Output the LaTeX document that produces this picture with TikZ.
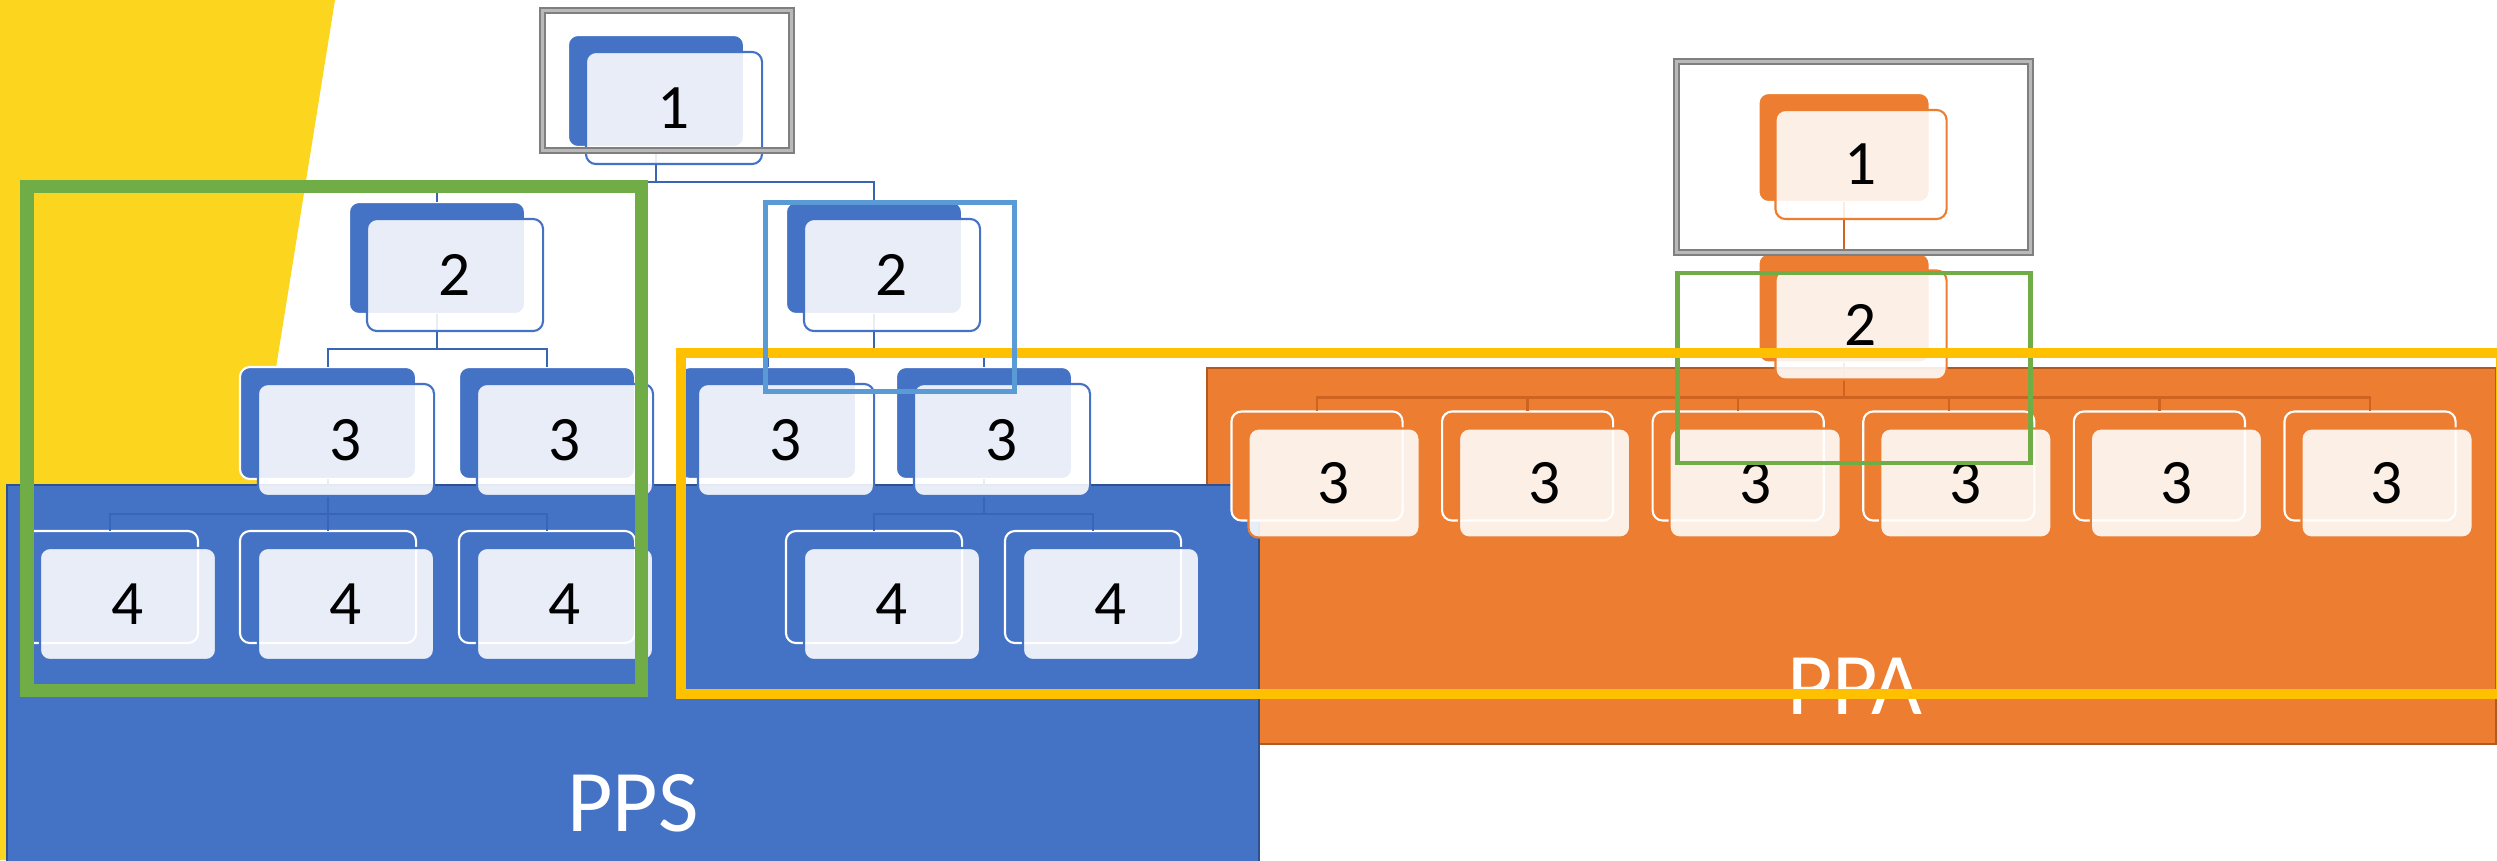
\documentclass[tikz,border=0pt]{standalone}
\usepackage{fontspec}
\setmainfont{Carlito}
\usepackage{tikz}

\definecolor{ppsblue}{HTML}{4472C4}
\definecolor{ppsedge}{HTML}{2F528F}
\definecolor{ppaorange}{HTML}{ED7D31}
\definecolor{ppaedge}{HTML}{AE5A21}
\definecolor{linkblue}{HTML}{3A64B4}
\definecolor{linkorange}{HTML}{CF6320}
\definecolor{sunyellow}{HTML}{FCD51E}
\definecolor{frameyellow}{HTML}{FFC000}
\definecolor{framegreen}{HTML}{70AD47}
\definecolor{framesky}{HTML}{5B9BD5}
\definecolor{framegray}{HTML}{7F7F7F}

\tikzset{
  cardbase/.style={rectangle, rounded corners=0.1cm, inner sep=0pt, outer sep=0pt, line width=0.6pt},
  ppsback/.style={cardbase, minimum width=1.76cm, minimum height=1.12cm, fill=ppsblue, draw=white},
  ppsfront/.style={cardbase, minimum width=1.76cm, minimum height=1.12cm, fill=white, fill opacity=0.88, text opacity=1, draw=ppsblue, font=\fontsize{18}{18}\selectfont},
  ppaback/.style={cardbase, minimum width=1.71cm, minimum height=1.09cm, fill=ppaorange, draw=white},
  ppafront/.style={cardbase, minimum width=1.71cm, minimum height=1.09cm, fill=white, fill opacity=0.88, text opacity=1, draw=ppaorange, font=\fontsize{18}{18}\selectfont},
  ppslink/.style={draw=linkblue, line width=0.6pt},
  ppalink/.style={draw=linkorange, line width=0.7pt},
  areatext/.style={inner sep=0pt, text=white, font=\fontsize{25}{25}\selectfont},
  grayframe/.style={draw=framegray, line width=0.6pt, double=framegray!55, double distance=0.7pt}
}

\begin{document}
\begin{tikzpicture}[x=0.01cm, y=-0.01cm]
\clip (0,0) rectangle (2497,860);

% areas
\fill[sunyellow] (0,0) -- (335,0) -- (197,860) -- (0,860) -- cycle;
\draw[ppaedge, fill=ppaorange, line width=0.5pt] (1207,368) rectangle (2496,744);
\draw[ppsedge, fill=ppsblue, line width=0.5pt] (7,485) rectangle (1259,880);
\node[areatext] (ppa) at (1855,686) {PPA};
\node[areatext] (pps) at (633,803) {PPS};

% PPS tree
\foreach \nd/\x/\y in {s1/656/91, s2a/437/258, s2b/874/258,
    s3a/328/423, s3b/547/423, s3c/768/423, s3d/984/423,
    s4a/110/587, s4b/328/587, s4c/547/587, s4d/874/587, s4e/1093/587}
  \node[ppsback] (\nd) at (\x,\y) {};

\foreach \p/\c in {s1/s2a, s1/s2b, s2a/s3a, s2a/s3b, s2b/s3c, s2b/s3d,
    s3a/s4a, s3a/s4b, s3a/s4c, s3d/s4d, s3d/s4e}
  \draw[ppslink] (\p.south) -- ++(0,35) -| (\c.north);

\foreach \nd/\t in {s1/1, s2a/2, s2b/2, s3a/3, s3b/3, s3c/3, s3d/3,
    s4a/4, s4b/4, s4c/4, s4d/4, s4e/4}
  \node[ppsfront] (f\nd) at ([shift={(18,17)}]\nd.center) {\t};

% PPA tree
\node[ppaback] (a1) at (1844,147.5) {};
\node[ppaback] (a2) at (1844,308) {};
\foreach \k in {0,...,5}
  \node[ppaback] (a3\k) at ({1317+210.6*\k},466) {};

\draw[ppalink] (a1.south) -- (a2.north);
\foreach \k in {0,...,5}
  \draw[ppalink] (a2.south) -- ++(0,35) -| (a3\k.north);

\node[ppafront] (fa1) at ([shift={(17,17)}]a1.center) {1};
\node[ppafront] (fa2) at ([shift={(17,17)}]a2.center) {2};
\foreach \k in {0,...,5}
  \node[ppafront] (fa3\k) at ([shift={(17,17)}]a3\k.center) {3};

% highlight frames
\draw[grayframe] (542.5,10.5) rectangle (791.5,150.5);
\draw[grayframe] (1676.5,61.5) rectangle (2030.5,252.5);
\draw[framegreen, line width=3.7pt] (27,186) rectangle (641,690);
\draw[framegreen, line width=1.4pt] (1677.5,273) rectangle (2030.5,463);
\draw[frameyellow, line width=2.85pt] (681,353) rectangle (2501,694);
\draw[framesky, line width=1.4pt] (765.5,202.5) rectangle (1014.5,391.5);
\end{tikzpicture}
\end{document}
